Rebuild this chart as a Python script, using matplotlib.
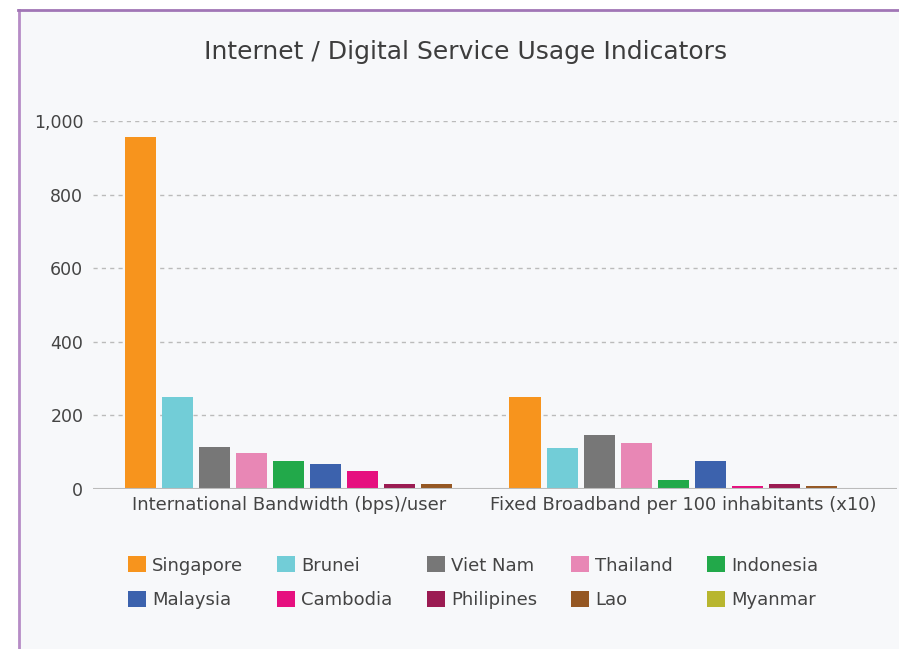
import numpy as np
import matplotlib
matplotlib.use("Agg")
import matplotlib.pyplot as plt
from matplotlib.patches import Rectangle, Patch
from matplotlib.lines import Line2D
from matplotlib.ticker import FuncFormatter

plt.rcParams['font.family'] = ['DejaVu Sans']

categories = ["International Bandwidth (bps)/user",
              "Fixed Broadband per 100 inhabitants (x10)"]
countries = ["Singapore", "Brunei", "Viet Nam", "Thailand", "Indonesia",
             "Malaysia", "Cambodia", "Philipines", "Lao", "Myanmar"]
colors = ["#f7941d", "#72cdd7", "#777777", "#e887b5", "#22a94a",
          "#3c62ad", "#e6107f", "#9b1b52", "#955723", "#b8b62f"]
# values per country: [bandwidth, broadband x10]; Myanmar has no data
bandwidth = [956, 250, 115, 98, 77, 69, 50, 14, 14, None]
broadband = [250, 112, 148, 126, 25, 77, 9, 14, 9, None]

fig = plt.figure(figsize=(8.99, 6.49), dpi=100)
fig.patch.set_facecolor("white")

# panel background with purple border on left / top
W, H = 899, 649
fig.patches.append(Rectangle((18 / W, 0), 1, (H - 10) / H, transform=fig.transFigure,
                             facecolor="#f7f8fa", edgecolor="none", zorder=-5))
fig.lines.append(Line2D([18.5 / W, 18.5 / W], [0, (H - 9.5) / H], transform=fig.transFigure,
                        color="#b68cc6", lw=2, zorder=-4))
fig.lines.append(Line2D([18 / W, 1], [(H - 9.5) / H, (H - 9.5) / H], transform=fig.transFigure,
                        color="#a176b6", lw=2, zorder=-4))

ax = fig.add_axes([93 / W, (H - 489) / H, (897 - 93) / W, (489 - 121) / H])
ax.set_facecolor("none")

has_data = [i for i, v in enumerate(bandwidth) if v is not None]
n = len(has_data)
slot = 37 / 384
bw = 31 / 384
x = np.arange(len(categories))
for k, i in enumerate(has_data):
    off = (k - (n - 1) / 2) * slot
    ax.bar(x + off, [bandwidth[i], broadband[i]], width=bw, color=colors[i], zorder=3)

ax.set_xlim(-0.510, 1.583)
ax.set_ylim(0, 1000)
ax.set_yticks(np.arange(0, 1001, 200))
ax.yaxis.set_major_formatter(FuncFormatter(lambda v, p: f"{int(v):,}"))
# category labels sit a little right of the second bar group, as in the source
ax.set_xticks(x + np.array([0, 0.026]))
ax.set_xticklabels(categories)
ax.tick_params(axis="both", length=0, colors="#444444")
ax.tick_params(axis="y", pad=7, labelsize=12.5)
ax.tick_params(axis="x", pad=5, labelsize=13)
for s in ax.spines.values():
    s.set_visible(False)
ax.grid(axis="y", linestyle=(0, (3, 3)), color="#bbbbbb", lw=1, zorder=0)
ax.axhline(0, color="#bbbbbb", lw=1.5, zorder=4)

fig.text(466 / W, 1 - 52 / H, "Internet / Digital Service Usage Indicators",
         ha="center", va="center", fontsize=18, color="#3d3d3d")

handles = [Patch(facecolor=c, edgecolor="none") for c in colors]
# legend fills column by column, so reorder to read row by row
ncol = 5
order = [r * ncol + c for c in range(ncol) for r in range(2)]
leg = fig.legend([handles[i] for i in order], [countries[i] for i in order],
                 loc="upper left", ncol=ncol,
                 bbox_to_anchor=(111.5 / W, 1 - 540 / H), frameon=False,
                 fontsize=13, handlelength=1.0, handleheight=1.0,
                 handletextpad=0.33, columnspacing=1.9, labelspacing=0.9,
                 labelcolor="#444444")

fig.savefig("out.png", dpi=100, facecolor=fig.get_facecolor())
